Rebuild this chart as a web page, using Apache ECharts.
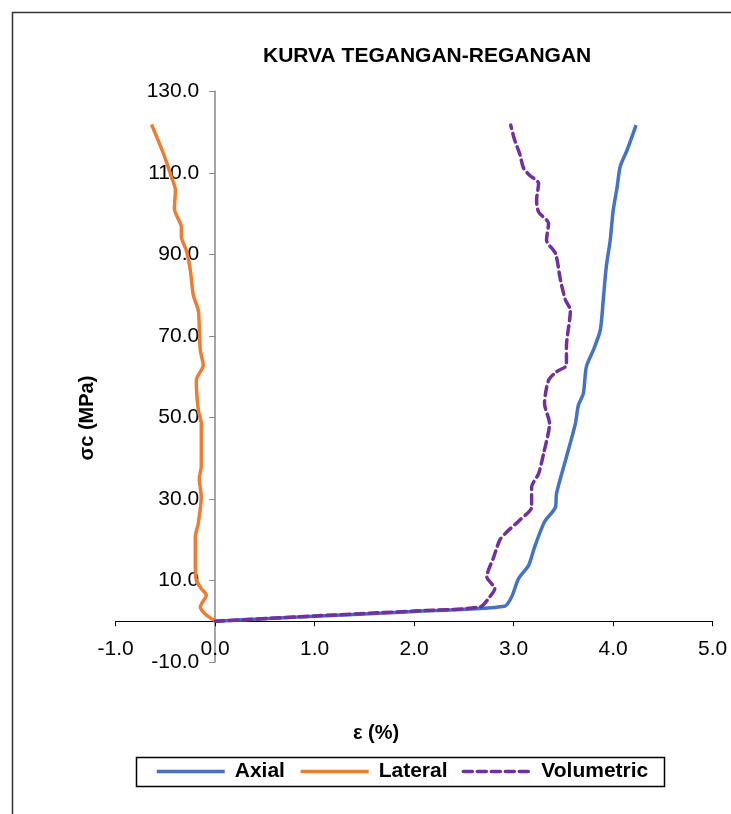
<!DOCTYPE html>
<html>
<head>
<meta charset="utf-8">
<script src="https://cdn.jsdelivr.net/npm/echarts@6/dist/echarts.min.js"></script>
<style>html,body{margin:0;padding:0;background:#fff;}#c{width:731px;height:814px;}</style>
</head>
<body>
<div id="c"></div>
<script>
var titleText = 'KURVA TEGANGAN-REGANGAN';
var xName = 'ε (%)';
var yName = 'σc (MPa)';
var seriesNames = ['Axial', 'Lateral', 'Volumetric'];

var axialX = [0, 1.0, 2.0, 2.91, 2.98, 3.05, 3.15, 3.21, 3.31, 3.42, 3.43, 3.53, 3.62, 3.65, 3.70, 3.73, 3.80, 3.87, 3.90, 3.93, 3.97, 4.00, 4.04, 4.07, 4.14, 4.23];
var axialY = [0, 1.2, 2.4, 3.7, 6.0, 10.5, 13.7, 18.2, 24.4, 28.0, 31.3, 40.3, 48.5, 53.0, 55.9, 62.4, 66.5, 71.4, 78.8, 86.9, 93.5, 100.8, 106.6, 111.5, 115.6, 121.7];

var lateralX = [0, -0.02, -0.09, -0.15, -0.09, -0.14, -0.19, -0.20, -0.20, -0.17, -0.14, -0.16, -0.14, -0.14, -0.17, -0.19, -0.12, -0.15, -0.16, -0.17, -0.22, -0.25, -0.29, -0.34, -0.34, -0.35, -0.41, -0.40, -0.44, -0.52, -0.64];
var lateralY = [0, 0.4, 1.5, 3.5, 6.4, 8.0, 10.1, 13.3, 20.7, 24.0, 30.5, 35.0, 37.9, 48.5, 51.8, 59.1, 62.8, 66.5, 72.2, 76.3, 80.0, 86.1, 91.0, 94.3, 96.7, 97.6, 101.2, 105.7, 109.0, 114.7, 121.9];

var volX = [0, 1.0, 2.0, 2.66, 2.76, 2.81, 2.73, 2.80, 2.86, 2.93, 3.06, 3.18, 3.18, 3.25, 3.30, 3.36, 3.31, 3.35, 3.43, 3.53, 3.53, 3.57, 3.52, 3.47, 3.42, 3.33, 3.35, 3.25, 3.23, 3.25, 3.16, 3.10, 3.06, 3.01, 2.97];
var volY = [0, 1.3, 2.5, 3.5, 6.0, 8.0, 10.9, 15.8, 19.9, 21.9, 24.8, 28.0, 32.9, 36.2, 41.1, 48.5, 53.4, 59.1, 61.2, 62.8, 67.3, 76.3, 78.8, 83.7, 90.2, 93.5, 97.6, 100.4, 103.3, 107.4, 109.4, 111.1, 114.7, 118.0, 121.7];

function pairs(xs, ys) { return xs.map(function (x, i) { return [x, ys[i]]; }); }

var FONT = '"Liberation Sans", Arial, sans-serif';
var gridLeft = 115.7, gridRight = 18.3, gridTop = 91.3, gridBottom = 152;
var plotW = 731 - gridLeft - gridRight, plotH = 814 - gridTop - gridBottom;
var xMin = -1, xMax = 5, yMin = -10, yMax = 130;
// shift axes so they cross at zero
var yAxisOffset = -((0 - xMin) / (xMax - xMin) * plotW);
var xAxisOffset = -((0 - yMin) / (yMax - yMin) * plotH);

var chart = echarts.init(document.getElementById('c'));
chart.setOption({
  animation: false,
  backgroundColor: '#fff',
  title: {
    text: titleText, left: 258, top: 41,
    textStyle: { fontFamily: FONT, fontSize: 21, fontWeight: 'bold', color: '#000' }
  },
  grid: { left: gridLeft, right: gridRight, top: gridTop, bottom: gridBottom },
  xAxis: {
    type: 'value', min: xMin, max: xMax, interval: 1, offset: xAxisOffset,
    splitLine: { show: false },
    axisLine: { onZero: false, lineStyle: { color: '#000', width: 1 } },
    axisTick: { show: true, length: 5, lineStyle: { color: '#000' } },
    axisLabel: { margin: 17, fontFamily: FONT, fontSize: 21, color: '#000', formatter: function (v) { return v.toFixed(1); } }
  },
  yAxis: {
    type: 'value', min: yMin, max: yMax, interval: 20, offset: yAxisOffset,
    splitLine: { show: false },
    axisLine: { show: true, onZero: false, lineStyle: { color: '#888', width: 1.5 } },
    axisTick: { show: true, length: 6, lineStyle: { color: '#888' } },
    axisLabel: { margin: 16, fontFamily: FONT, fontSize: 21, color: '#000', formatter: function (v) { return v.toFixed(1); } }
  },
  legend: {
    left: 155, top: 761, padding: 0, itemGap: 14, itemWidth: 68, itemHeight: 14,
    itemStyle: { opacity: 0 },
    lineStyle: { width: 3.5 },
    textStyle: { fontFamily: FONT, fontSize: 21, fontWeight: 'bold', color: '#000', padding: [0, 0, 0, 5] },
    data: seriesNames
  },
  graphic: [
    { type: 'rect', shape: { x: 12.5, y: 12.5, width: 900, height: 900 }, style: { fill: 'none', stroke: '#333', lineWidth: 1.5 }, silent: true, z: -1 },
    { type: 'rect', shape: { x: 136.5, y: 757.5, width: 528, height: 29 }, style: { fill: 'none', stroke: '#000', lineWidth: 1.5 }, silent: true },
    { type: 'text', x: 87, y: 418, rotation: Math.PI / 2, style: { text: yName, font: 'bold 20px ' + FONT, fill: '#000', textAlign: 'center', textVerticalAlign: 'middle' } },
    { type: 'text', x: 376, y: 733, style: { text: xName, font: 'bold 20px ' + FONT, fill: '#000', textAlign: 'center', textVerticalAlign: 'middle' } }
  ],
  series: [
    { name: seriesNames[0], type: 'line', data: pairs(axialX, axialY), showSymbol: false, symbol: 'none', smooth: 0.25,
      lineStyle: { color: '#4472C4', width: 3.5 }, itemStyle: { color: '#4472C4' } },
    { name: seriesNames[1], type: 'line', data: pairs(lateralX, lateralY), showSymbol: false, symbol: 'none', smooth: 0.25,
      lineStyle: { color: '#ED7D31', width: 3.5 }, itemStyle: { color: '#ED7D31' } },
    { name: seriesNames[2], type: 'line', data: pairs(volX, volY), showSymbol: false, symbol: 'none', smooth: 0.25,
      lineStyle: { color: '#7030A0', width: 3.5, type: [9, 5], cap: 'round' }, itemStyle: { color: '#7030A0' } }
  ]
});
</script>
</body>
</html>
